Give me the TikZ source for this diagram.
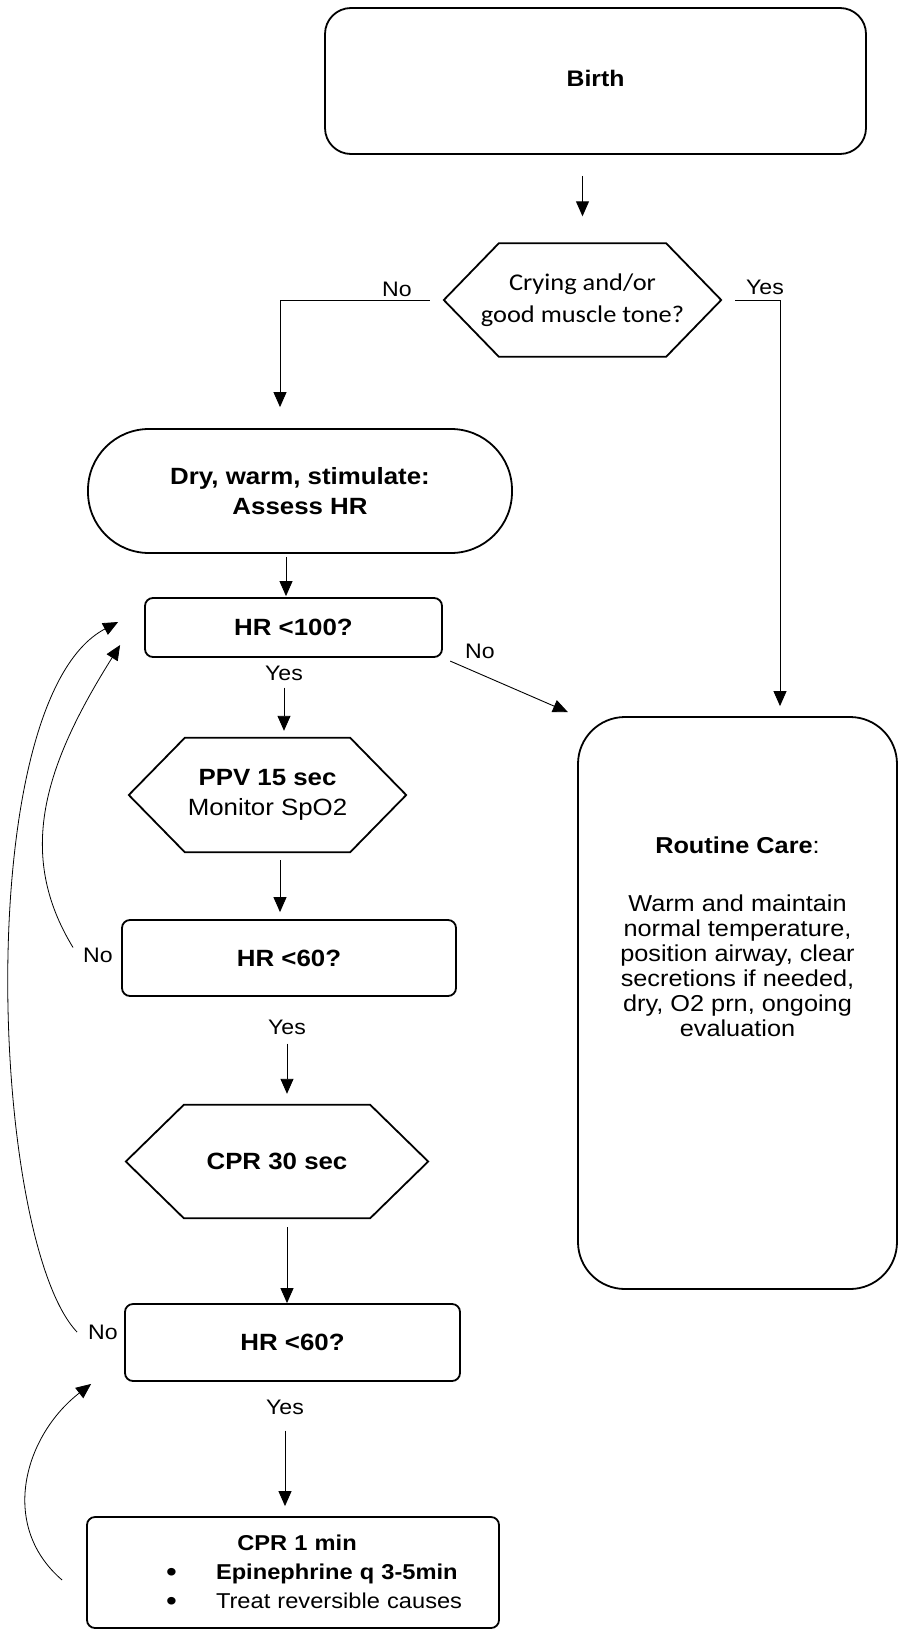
\documentclass[tikz,border=0pt]{standalone}
\usepackage{fontspec}
\setmainfont{Liberation Sans}[FakeStretch=1.1]
\newfontfamily\carlito{Carlito}[FakeStretch=1.1]
\usetikzlibrary{arrows.meta}

% hexagon drawn round a plain node: name, side offset
\newcommand{\hexa}[2]{%
  \draw[boxline] (#1.west) -- ([xshift=#2]#1.north west) -- ([xshift=-#2]#1.north east)
    -- (#1.east) -- ([xshift=-#2]#1.south east) -- ([xshift=#2]#1.south west) -- cycle;}
\newcommand{\bigdot}{\raisebox{-2pt}{\fontsize{28}{28}\selectfont\textbullet}}

\tikzset{
  boxline/.style={line width=1.8pt, line join=miter},
  box/.style={draw, line width=1.8pt, rounded corners=8pt, inner sep=0pt, align=center},
  hexnode/.style={inner sep=0pt, align=center},
  arr/.style={line width=0.9pt, -{Triangle[length=15pt,width=13pt]}},
  backarr/.style={line width=0.8pt, -{Triangle[length=15pt,width=13pt]}},
  lbl/.style={font=\fontsize{21}{25}\selectfont, inner sep=0pt},
  hd/.style={font=\fontsize{23.5}{30}\selectfont\bfseries},
}

\begin{document}
\begin{tikzpicture}[x=1pt,y=1pt]
  \useasboundingbox (0,0) rectangle (899,-1630);

  % boxes
  \node[box, rounded corners=26pt, minimum width=541pt, minimum height=146pt,
        font=\fontsize{22.5}{27}\selectfont\bfseries] (Birth) at (595.5,-81) {\raisebox{6pt}{Birth}};
  \node[hexnode, minimum width=277pt, minimum height=113pt,
        font=\carlito\fontsize{24}{32}\selectfont] (Cry) at (582.5,-300) {Crying and/or\\good muscle tone?};
  \node[box, rounded corners=61pt, minimum width=424pt, minimum height=124pt, hd] (Dry) at (300,-491) {Dry, warm, stimulate:\\Assess HR};
  \node[box, minimum width=297pt, minimum height=59pt, hd] (HR100) at (293.5,-627.5) {HR <100?};
  \node[hexnode, minimum width=277pt, minimum height=114pt,
        font=\fontsize{23.5}{30}\selectfont] (PPV) at (267.5,-795) {\textbf{PPV 15 sec}\\Monitor SpO2};
  \node[box, minimum width=334pt, minimum height=76pt, hd] (HRa) at (289,-958) {HR <60?};
  \node[hexnode, minimum width=302pt, minimum height=113pt, hd] (CPRa) at (277,-1161.5) {CPR 30 sec};
  \node[box, minimum width=335pt, minimum height=77pt, hd] (HRb) at (292.5,-1342.5) {HR <60?};
  \node[box, minimum width=412pt, minimum height=111pt, text width=412pt, align=left,
        font=\fontsize{21.5}{29}\selectfont] (CPRb) at (293,-1572.5)
    {\makebox[412pt]{\hspace*{8pt}\textbf{CPR 1 min}}\\
     \hspace*{79pt}\makebox[50pt][l]{\bigdot}\textbf{Epinephrine q 3-5min}\\
     \hspace*{79pt}\makebox[50pt][l]{\bigdot}Treat reversible causes};
  \node[box, rounded corners=47pt, minimum width=319pt, minimum height=572pt,
        font=\fontsize{23}{25}\selectfont] (Care) at (737.5,-1003)
    {\textbf{Routine Care}:\\[33pt]Warm and maintain\\normal temperature,\\position airway, clear\\secretions if needed,\\dry, O2 prn, ongoing\\evaluation\\[108pt]\mbox{}};

  \hexa{Cry}{55pt}
  \hexa{PPV}{56pt}
  \hexa{CPRa}{58pt}

  % labels
  \node[lbl] (noCry) at (397,-289.5) {No};
  \node[lbl] (yesCry) at (765,-287.5) {Yes};
  \node[lbl] (noA) at (480,-651) {No};
  \node[lbl] (yesA) at (284,-673) {Yes};
  \node[lbl] (noB) at (98,-955) {No};
  \node[lbl] (yesB) at (287,-1027) {Yes};
  \node[lbl] (noC) at (103,-1332) {No};
  \node[lbl] (yesC) at (285,-1407) {Yes};

  \coordinate (noturn) at (280,-300);
  \coordinate (yesturn) at (780,-300);

  % connectors
  \draw[arr, shorten <=21pt, shorten >=27pt] (Birth.south -| Cry) -- (Cry.north);
  \draw[arr, shorten <=14pt, shorten >=21pt] (Cry.west) -- (noturn) -- (noturn |- Dry.north);
  \draw[arr, shorten <=14pt, shorten >=10pt] (Cry.east) -- (yesturn) -- (yesturn |- Care.north);
  \draw[arr, shorten <=3pt, shorten >=1pt] ([xshift=-14pt]Dry.south) -- ([xshift=-7.5pt]HR100.north);
  \draw[arr, shorten <=7pt, shorten >=7pt] (yesA.south) -- (yesA.south |- PPV.north);
  \draw[arr, shorten <=8pt, shorten >=7pt] ([xshift=12.5pt]PPV.south) -- ([xshift=12.5pt]PPV.south |- HRa.north);
  \draw[arr, shorten <=9pt, shorten >=11pt] (yesB.south) -- (yesB.south |- CPRa.north);
  \draw[arr, shorten <=9pt] ([xshift=10pt]CPRa.south) -- ([xshift=10pt]CPRa.south |- HRb.north);
  \draw[arr, shorten <=16pt, shorten >=10pt] (yesC.south) -- (yesC.south |- CPRb.north);
  \draw[arr, shorten <=8pt, shorten >=10pt] (HR100.south east) -- (Care.north west);

  % loops back
  \draw[backarr] ([xshift=-10pt]noB.north west) .. controls (16,-854) and (44,-766) .. ([xshift=-24pt,yshift=-17.5pt]HR100.west);
  \draw[backarr] ([xshift=-11pt]noC.west) .. controls (-10,-1240) and (-30,-700) .. ([xshift=-26pt,yshift=5.5pt]HR100.west);
  \draw[backarr] ([xshift=-24pt,yshift=-7.5pt]CPRb.west) .. controls (-2,-1525) and (25,-1435) .. ([xshift=-33pt,yshift=-2pt]HRb.south west);
\end{tikzpicture}
\end{document}
